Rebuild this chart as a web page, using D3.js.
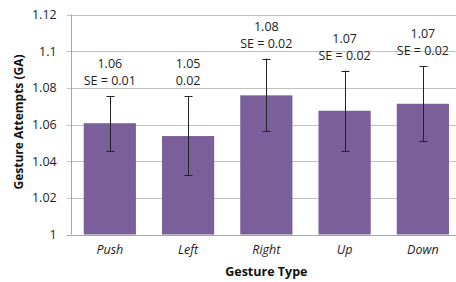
<!DOCTYPE html>
<html>
<head>
<meta charset="utf-8">
<script src="https://cdn.jsdelivr.net/npm/d3@7"></script>
<style>
  body { margin: 0; background: #fff; }
  svg { display: block; font-family: "Open Sans", "Noto Sans", sans-serif; }
</style>
</head>
<body>
<div id="chart"></div>
<script>
// data
var gestures = ["Push", "Left", "Right", "Up", "Down"];
var means = [1.0607, 1.0537, 1.0759, 1.0675, 1.0713];
var errLow = [1.0455, 1.0323, 1.0563, 1.0455, 1.051];
var errHigh = [1.0754, 1.0754, 1.0959, 1.0894, 1.0919];
var labelTop = ["1.06", "1.05", "1.08", "1.07", "1.07"];
var labelBottom = ["SE = 0.01", "0.02", "SE = 0.02", "SE = 0.02", "SE = 0.02"];
var yTicks = [1, 1.02, 1.04, 1.06, 1.08, 1.1, 1.12];

var width = 456, height = 282;
var plotLeft = 70.7, plotRight = 462, plotTop = 14.5, plotBottom = 234.5;

var svg = d3.select("#chart").append("svg")
    .attr("width", width)
    .attr("height", height);

var x = d3.scaleBand()
    .domain(gestures)
    .range([plotLeft, plotRight])
    .paddingInner(0.333)
    .paddingOuter(0.1665);

var y = d3.scaleLinear()
    .domain([1, 1.12])
    .range([plotBottom, plotTop]);

// gridlines
svg.selectAll(".grid")
    .data(yTicks.slice(1))
    .enter().append("line")
    .attr("x1", plotLeft - 4)
    .attr("x2", plotRight)
    .attr("y1", function (d) { return Math.round(y(d)) + 0.5; })
    .attr("y2", function (d) { return Math.round(y(d)) + 0.5; })
    .attr("stroke", "#c0c0c0")
    .attr("stroke-width", 1);

// bars
svg.selectAll(".bar")
    .data(gestures)
    .enter().append("rect")
    .attr("x", function (d) { return x(d); })
    .attr("width", x.bandwidth())
    .attr("y", function (d, i) { return y(means[i]); })
    .attr("height", function (d, i) { return y(1) - y(means[i]); })
    .attr("fill", "#7a5f9a");

// axes lines
svg.append("line")
    .attr("x1", plotLeft - 4).attr("x2", plotRight)
    .attr("y1", Math.round(y(1)) + 0.5).attr("y2", Math.round(y(1)) + 0.5)
    .attr("stroke", "#a6a6a6");
svg.append("line")
    .attr("x1", Math.round(plotLeft) + 0.5).attr("x2", Math.round(plotLeft) + 0.5)
    .attr("y1", y(1.12)).attr("y2", y(1))
    .attr("stroke", "#a6a6a6");

// error bars
var eb = svg.selectAll(".err")
    .data(gestures)
    .enter().append("g")
    .attr("stroke", "#222")
    .attr("stroke-width", 1);
eb.append("line")
    .attr("x1", function (d) { return Math.round(x(d) + x.bandwidth() / 2) + 0.5; })
    .attr("x2", function (d) { return Math.round(x(d) + x.bandwidth() / 2) + 0.5; })
    .attr("y1", function (d, i) { return y(errLow[i]); })
    .attr("y2", function (d, i) { return y(errHigh[i]); });
[errLow, errHigh].forEach(function (arr) {
    eb.append("line")
        .attr("x1", function (d) { return Math.round(x(d) + x.bandwidth() / 2) - 3.5; })
        .attr("x2", function (d) { return Math.round(x(d) + x.bandwidth() / 2) + 4.5; })
        .attr("y1", function (d, i) { return Math.round(y(arr[i])) + 0.5; })
        .attr("y2", function (d, i) { return Math.round(y(arr[i])) + 0.5; });
});

// value labels
var lab = svg.selectAll(".lab")
    .data(gestures)
    .enter().append("text")
    .attr("text-anchor", "middle")
    .attr("font-size", 12.5)
    .attr("fill", "#222");
lab.append("tspan")
    .attr("x", function (d) { return x(d) + x.bandwidth() / 2; })
    .attr("y", function (d, i) { return y(errHigh[i]) - 28; })
    .text(function (d, i) { return labelTop[i]; });
lab.append("tspan")
    .attr("x", function (d) { return x(d) + x.bandwidth() / 2; })
    .attr("y", function (d, i) { return y(errHigh[i]) - 11; })
    .text(function (d, i) { return labelBottom[i]; });

// y tick labels
svg.selectAll(".ytick")
    .data(yTicks)
    .enter().append("text")
    .attr("x", plotLeft - 14)
    .attr("y", function (d) { return y(d); })
    .attr("dy", "0.35em")
    .attr("text-anchor", "end")
    .attr("font-size", 12.5)
    .attr("fill", "#222")
    .text(function (d) { return d3.format("")(+d.toFixed(2)); });

// x tick labels
svg.selectAll(".xtick")
    .data(gestures)
    .enter().append("text")
    .attr("x", function (d) { return x(d) + x.bandwidth() / 2; })
    .attr("y", 254)
    .attr("text-anchor", "middle")
    .attr("font-size", 12.5)
    .attr("font-style", "italic")
    .attr("fill", "#222")
    .text(function (d) { return d; });

// axis titles
svg.append("text")
    .attr("x", (plotLeft + plotRight) / 2)
    .attr("y", 276)
    .attr("text-anchor", "middle")
    .attr("font-size", 12.5)
    .attr("font-weight", "bold")
    .attr("fill", "#111")
    .text("Gesture Type");

svg.append("text")
    .attr("transform", "translate(23,122) rotate(-90)")
    .attr("text-anchor", "middle")
    .attr("font-size", 12)
    .attr("font-weight", "bold")
    .attr("fill", "#111")
    .text("Gesture Attempts (GA)");
</script>
</body>
</html>
